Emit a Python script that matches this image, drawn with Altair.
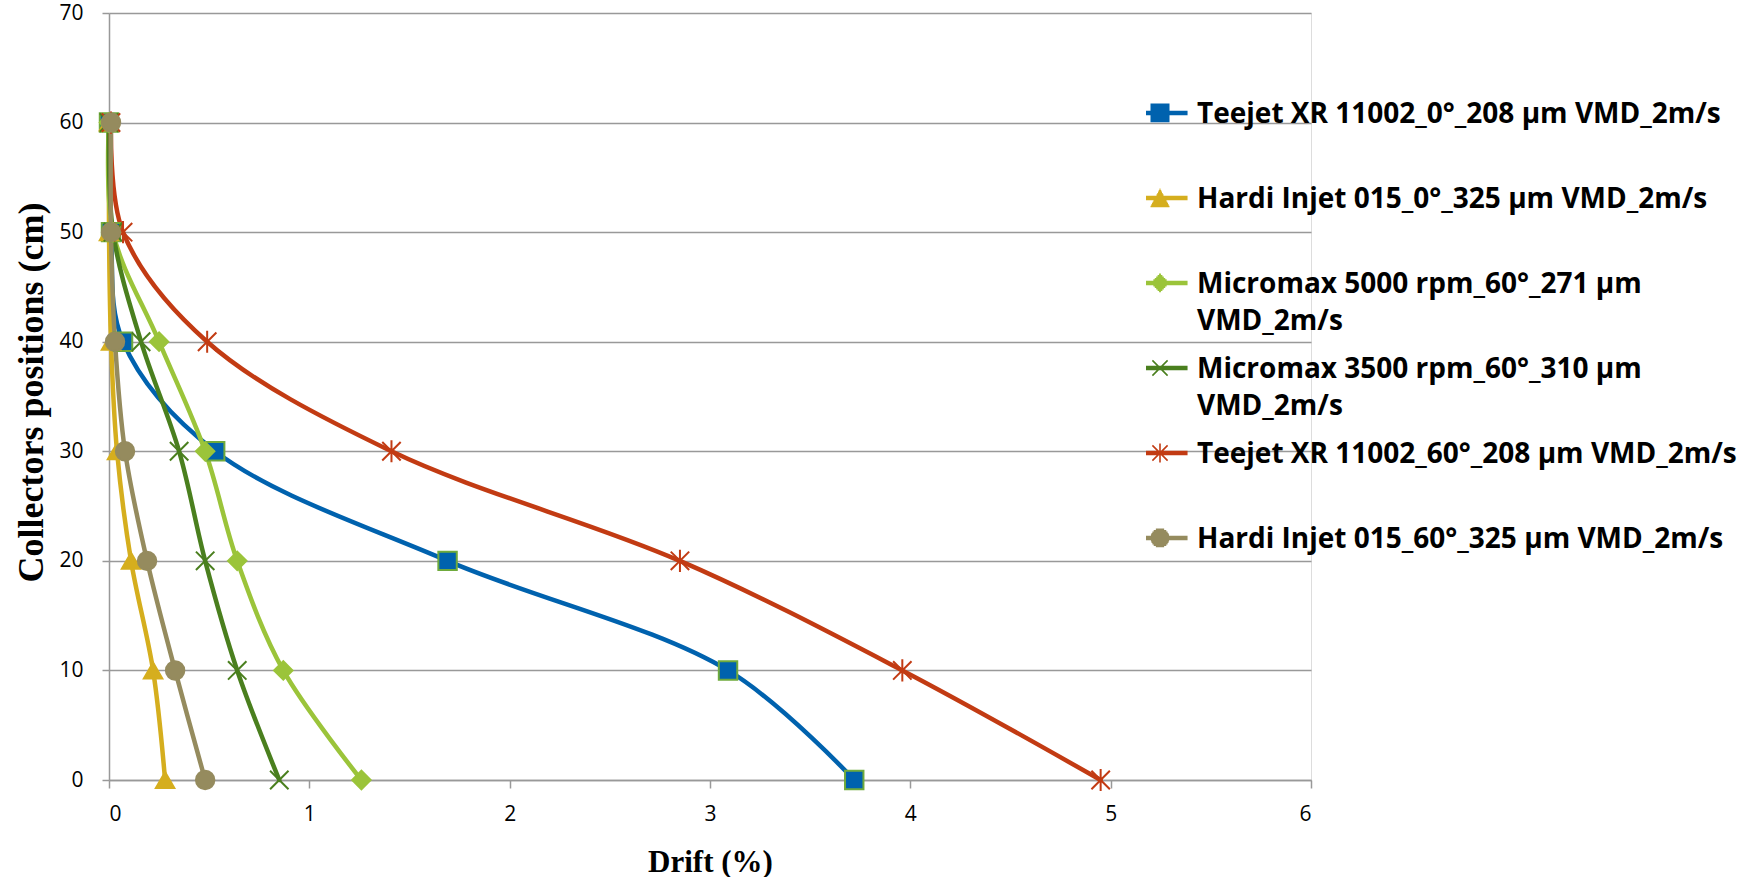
import math
import altair as alt
import pandas as pd

# ---------------- data ----------------
positions = [0, 10, 20, 30, 40, 50, 60]
series_names = [
    "Teejet XR 11002_0°_208 µm VMD_2m/s",
    "Hardi Injet 015_0°_325 µm VMD_2m/s",
    "Micromax 5000 rpm_60°_271 µm VMD_2m/s",
    "Micromax 3500 rpm_60°_310 µm VMD_2m/s",
    "Teejet XR 11002_60°_208 µm VMD_2m/s",
    "Hardi Injet 015_60°_325 µm VMD_2m/s",
]
teejet_0 = [3.72, 3.09, 1.69, 0.53, 0.07, 0.01, 0.00]
hardi_0 = [0.28, 0.22, 0.11, 0.04, 0.01, 0.00, 0.00]
micromax_5000 = [1.26, 0.87, 0.64, 0.48, 0.25, 0.02, 0.00]
micromax_3500 = [0.85, 0.64, 0.48, 0.35, 0.16, 0.02, 0.00]
teejet_60 = [4.95, 3.96, 2.85, 1.41, 0.49, 0.07, 0.01]
hardi_60 = [0.48, 0.33, 0.19, 0.08, 0.03, 0.01, 0.01]
drift_values = [teejet_0, hardi_0, micromax_5000, micromax_3500, teejet_60, hardi_60]

x_ticks = [0, 1, 2, 3, 4, 5, 6]
y_ticks = [0, 10, 20, 30, 40, 50, 60, 70]

# ---------------- styles ----------------
line_colors = ["#0062AE", "#D5AE1E", "#9BC43A", "#4A7F1E", "#C23B13", "#958B5E"]
border_colors = ["#6FAA3C", "#D5AE1E", "#9BC43A", "#4A7F1E", "#C23B13", "#958B5E"]

X_PATH = "M-1,-1L1,1M-1,1L1,-1"
AST_PATH = "M-1,-1L1,1M-1,1L1,-1M0,-1.2L0,1.2"
marker_shapes = ["square", "triangle-up", "diamond", X_PATH, AST_PATH, "circle"]

# legend symbols: a thick line plus the marker, built from thin strokes
DY = 1.26
HATCH = [-0.9 + 0.15 * i for i in range(13)]


def seg(x0, x1, y):
    return f"M{x0:.3f},{y + DY:.3f}H{x1:.3f}"


def line_part():
    return "".join(seg(-2.9, 2.9, y) for y in (-0.15, 0.0, 0.15))


def hatch(widthfn):
    out = ""
    for y in HATCH:
        w = widthfn(y)
        if w > 0.02:
            out += seg(-w, w, y)
    return out


def shifted(path_pts):
    out = ""
    for cmd in path_pts:
        (x0, y0), (x1, y1) = cmd
        out += f"M{x0},{y0 + DY:.3f}L{x1},{y1 + DY:.3f}"
    return out


legend_shapes = [
    line_part() + hatch(lambda y: 1.0),
    line_part() + hatch(lambda y: (y + 1.0) / 1.9 * 1.0 if y < 0.9 else 0.0),
    line_part() + hatch(lambda y: 1.0 - abs(y)),
    line_part() + shifted([((-0.8, -0.8), (0.8, 0.8)), ((-0.8, 0.8), (0.8, -0.8))]),
    line_part() + shifted([((-0.8, -0.8), (0.8, 0.8)), ((-0.8, 0.8), (0.8, -0.8)), ((0, -1.0), (0, 1.0))]),
    line_part() + hatch(lambda y: math.sqrt(max(0.0, 1 - y * y))),
]

rows = []
for name, vals in zip(series_names, drift_values):
    for p, v in zip(positions, vals):
        rows.append({"series": name, "drift": v, "position": p})
df = pd.DataFrame(rows)

axis_gray = "#999999"

x_enc = alt.X(
    "drift:Q",
    scale=alt.Scale(domain=[0, 6], nice=False),
    axis=alt.Axis(
        values=x_ticks, grid=False, domainColor=axis_gray, domainWidth=1.5,
        tickColor=axis_gray, tickWidth=1.5, tickSize=8,
        labelFont="Open Sans", labelFontSize=21, labelColor="black", labelPadding=15,
        title="Drift (%)", titleFont="Liberation Serif", titleFontSize=31,
        titleFontWeight="bold", titleColor="black", titleX=601, titleY=82,
        titleBaseline="middle", titleAlign="center",
    ),
)
y_enc = alt.Y(
    "position:Q",
    scale=alt.Scale(domain=[0, 70], nice=False),
    axis=alt.Axis(
        values=y_ticks, grid=True, gridColor=axis_gray, gridWidth=1.5,
        domainColor=axis_gray, domainWidth=1.5, tickColor=axis_gray, tickWidth=1.5,
        tickSize=7, labelFont="Open Sans", labelFontSize=21, labelColor="black",
        labelPadding=19, title="Collectors positions (cm)", titleFont="Liberation Serif",
        titleFontSize=36, titleFontWeight="bold", titleColor="black",
        titleX=-78, titleY=379, titleBaseline="middle", titleAlign="center", titleAngle=270,
    ),
)

color_scale = alt.Scale(domain=series_names, range=line_colors)

lines = alt.Chart(df).mark_line(
    interpolate="catmull-rom", strokeWidth=4.5, strokeCap="round", strokeJoin="round"
).encode(
    x=x_enc, y=y_enc,
    color=alt.Color("series:N", scale=color_scale, legend=None),
    order=alt.Order("position:Q", sort="descending"),
)

points = alt.Chart(df).mark_point(filled=True, size=340, strokeWidth=2, opacity=1).encode(
    x=x_enc, y=y_enc,
    fill=alt.Fill("series:N", scale=alt.Scale(domain=series_names, range=line_colors), legend=None),
    stroke=alt.Stroke("series:N", scale=alt.Scale(domain=series_names, range=border_colors), legend=None),
    shape=alt.Shape("series:N", scale=alt.Scale(domain=series_names, range=marker_shapes), legend=None),
)

legend_def = alt.Legend(
    title=None, orient="none", legendX=1037, legendY=68, direction="vertical",
    symbolSize=361, symbolStrokeWidth=1.6, symbolOpacity=1,
    labelFont="Open Sans", labelFontSize=28, labelFontWeight="bold", labelColor="black",
    labelLimit=800, labelOffset=23, labelBaseline="top", clipHeight=40, rowPadding=-3,
    padding=0,
    labelExpr="test(/^Micromax/, datum.label) ? [replace(datum.label, ' VMD_2m/s', ''), 'VMD_2m/s'] : [datum.label, '']",
)

legend_layer = alt.Chart(df).transform_filter("datum.position > 1000").mark_point(
    filled=False, size=361, strokeWidth=1.6, opacity=1
).encode(
    x=x_enc, y=y_enc,
    color=alt.Color("series:N", scale=color_scale, legend=legend_def),
    shape=alt.Shape("series:N", scale=alt.Scale(domain=series_names, range=legend_shapes), legend=legend_def),
)

chart = alt.layer(lines, points, legend_layer).resolve_scale(
    shape="independent"
).resolve_legend(
    color="independent", shape="independent"
).properties(
    width=1202, height=767,
    padding={"left": 109, "top": 13, "right": 453, "bottom": 97},
    autosize="none", background="white",
).configure_view(stroke=None).configure(
    style={"guide-label": {"lineHeight": 37}}
)

chart.save("out.html", embed_options={"renderer": "svg", "actions": False})
